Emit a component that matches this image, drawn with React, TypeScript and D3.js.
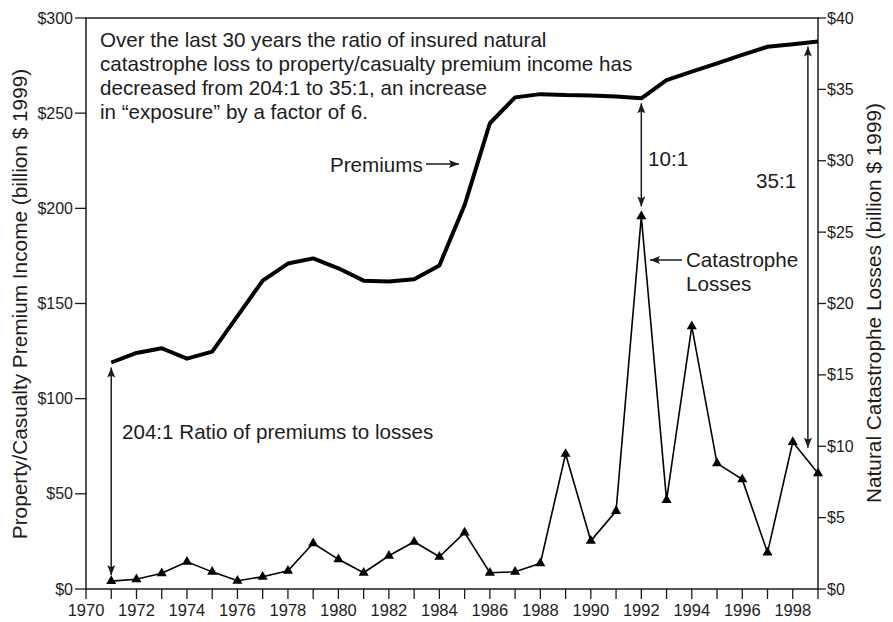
import React from "react";
import * as d3 from "d3";

const years = [1971,1972,1973,1974,1975,1976,1977,1978,1979,1980,1981,1982,1983,1984,1985,1986,1987,1988,1989,1990,1991,1992,1993,1994,1995,1996,1997,1998,1999];
const premiums = [119,124,126.5,121,124.7,143.4,162,171,173.7,168.5,162,161.5,162.7,170,201.7,244.7,258.3,260,259.5,259.3,258.7,257.8,267.4,271.8,276.2,280.6,284.9,286.2,287.6];
const losses = [0.55,0.68,1.1,1.9,1.2,0.58,0.86,1.28,3.2,2.08,1.14,2.33,3.31,2.26,3.95,1.14,1.21,1.8,9.46,3.38,5.46,26.1,6.23,18.4,8.8,7.68,2.55,10.3,8.1];
const leftTicks = [0,50,100,150,200,250,300];
const rightTicks = [0,5,10,15,20,25,30,35,40];
const xLabelYears = [1970,1972,1974,1976,1978,1980,1982,1984,1986,1988,1990,1992,1994,1996,1998];
const xTickYears = d3.range(1970, 2000);

const W = 893, H = 622;
const L = 86, R = 818, T = 18, B = 589;
const FONT = "'Liberation Sans', Arial, Helvetica, sans-serif";
const INK = "#1c1c1c";

export default function App() {
  const x = d3.scaleLinear().domain([1970, 1999]).range([L, R]);
  const yL = d3.scaleLinear().domain([0, 300]).range([B, T]);
  const yR = d3.scaleLinear().domain([0, 40]).range([B, T]);

  const premLine = d3.line<number>().x((_, i) => x(years[i])).y((d) => yL(d));
  const lossLine = d3.line<number>().x((_, i) => x(years[i])).y((d) => yR(d));
  const tri = d3.symbol().type(d3.symbolTriangle).size(44)();

  const iOf = (yr: number) => years.indexOf(yr);
  const a1971 = { x: x(1971), y1: yL(premiums[iOf(1971)]) + 5, y2: yR(losses[iOf(1971)]) - 6 };
  const a1992 = { x: x(1992), y1: yL(premiums[iOf(1992)]) + 5, y2: yR(losses[iOf(1992)]) - 10 };
  const a1999 = { x: x(1998.6), y1: yL(premiums[iOf(1999)]) + 5, y2: yR(9.9) };

  const arrows = [a1971, a1992, a1999];

  return (
    <svg width={W} height={H} style={{ position: "absolute", left: 0, top: 0, background: "#fff" }} fontFamily={FONT}>
      <defs>
        <marker id="ah" viewBox="0 0 10 8" refX="10" refY="4" markerWidth="10" markerHeight="8" markerUnits="userSpaceOnUse" orient="auto-start-reverse">
          <path d="M0,0 L10,4 L0,8 L2,4 Z" fill={INK} />
        </marker>
      </defs>
      <rect x={0} y={0} width={W} height={H} fill="#fff" />

      {/* frame */}
      <rect x={L} y={T} width={R - L} height={B - T} fill="none" stroke={INK} strokeWidth={1.5} />

      {/* left axis */}
      {leftTicks.map((t) => (
        <g key={"l" + t}>
          <line x1={L - 11} x2={L} y1={yL(t)} y2={yL(t)} stroke={INK} strokeWidth={1.3} />
          <text x={L - 13} y={yL(t)} dy="0.35em" textAnchor="end" fontSize={16} fill={INK}>{"$" + t}</text>
        </g>
      ))}
      {/* right axis */}
      {rightTicks.map((t) => (
        <g key={"r" + t}>
          <line x1={R} x2={R + 8} y1={yR(t)} y2={yR(t)} stroke={INK} strokeWidth={1.3} />
          <text x={R + 9} y={yR(t)} dy="0.35em" textAnchor="start" fontSize={16} fill={INK}>{"$" + t}</text>
        </g>
      ))}
      {/* bottom axis */}
      {xTickYears.map((yr) => (
        <line key={"x" + yr} x1={x(yr)} x2={x(yr)} y1={B} y2={B + 10} stroke={INK} strokeWidth={1.3} />
      ))}
      {xLabelYears.map((yr) => (
        <text key={"xl" + yr} x={x(yr)} y={616} textAnchor="middle" fontSize={16.5} fill={INK}>{yr}</text>
      ))}

      {/* axis titles */}
      <text transform={`translate(27,304) rotate(-90)`} textAnchor="middle" fontSize={20.8} fill={INK}>
        Property/Casualty Premium Income (billion $ 1999)
      </text>
      <text transform={`translate(881,303) rotate(-90)`} textAnchor="middle" fontSize={20.8} fill={INK}>
        Natural Catastrophe Losses (billion $ 1999)
      </text>

      {/* series */}
      <path d={premLine(premiums) || ""} fill="none" stroke="#000" strokeWidth={4} strokeLinejoin="round" />
      <path d={lossLine(losses) || ""} fill="none" stroke="#000" strokeWidth={1.6} strokeLinejoin="miter" />
      {losses.map((v, i) => (
        <path key={"m" + i} d={tri || ""} transform={`translate(${x(years[i])},${yR(v)})`} fill="#000" />
      ))}

      {/* ratio arrows */}
      {arrows.map((a, i) => (
        <line key={"a" + i} x1={a.x} x2={a.x} y1={a.y1} y2={a.y2} stroke={INK} strokeWidth={1.5}
          markerStart="url(#ah)" markerEnd="url(#ah)" />
      ))}

      {/* annotations */}
      <g fontSize={20.6} fill={INK}>
        <text x={100} y={47}>Over the last 30 years the ratio of insured natural</text>
        <text x={100} y={71}>catastrophe loss to property/casualty premium income has</text>
        <text x={100} y={95}>decreased from 204:1 to 35:1, an increase</text>
        <text x={100} y={119}>in “exposure” by a factor of 6.</text>
        <text x={330} y={172}>Premiums</text>
        <text x={648} y={166}>10:1</text>
        <text x={756} y={188}>35:1</text>
        <text x={686} y={267}>Catastrophe</text>
        <text x={686} y={291}>Losses</text>
        <text x={122} y={439}>204:1 Ratio of premiums to losses</text>
      </g>
      <line x1={426} x2={459} y1={164} y2={164} stroke={INK} strokeWidth={1.5} markerEnd="url(#ah)" />
      <line x1={682} x2={650} y1={260} y2={260} stroke={INK} strokeWidth={1.5} markerEnd="url(#ah)" />
    </svg>
  );
}
